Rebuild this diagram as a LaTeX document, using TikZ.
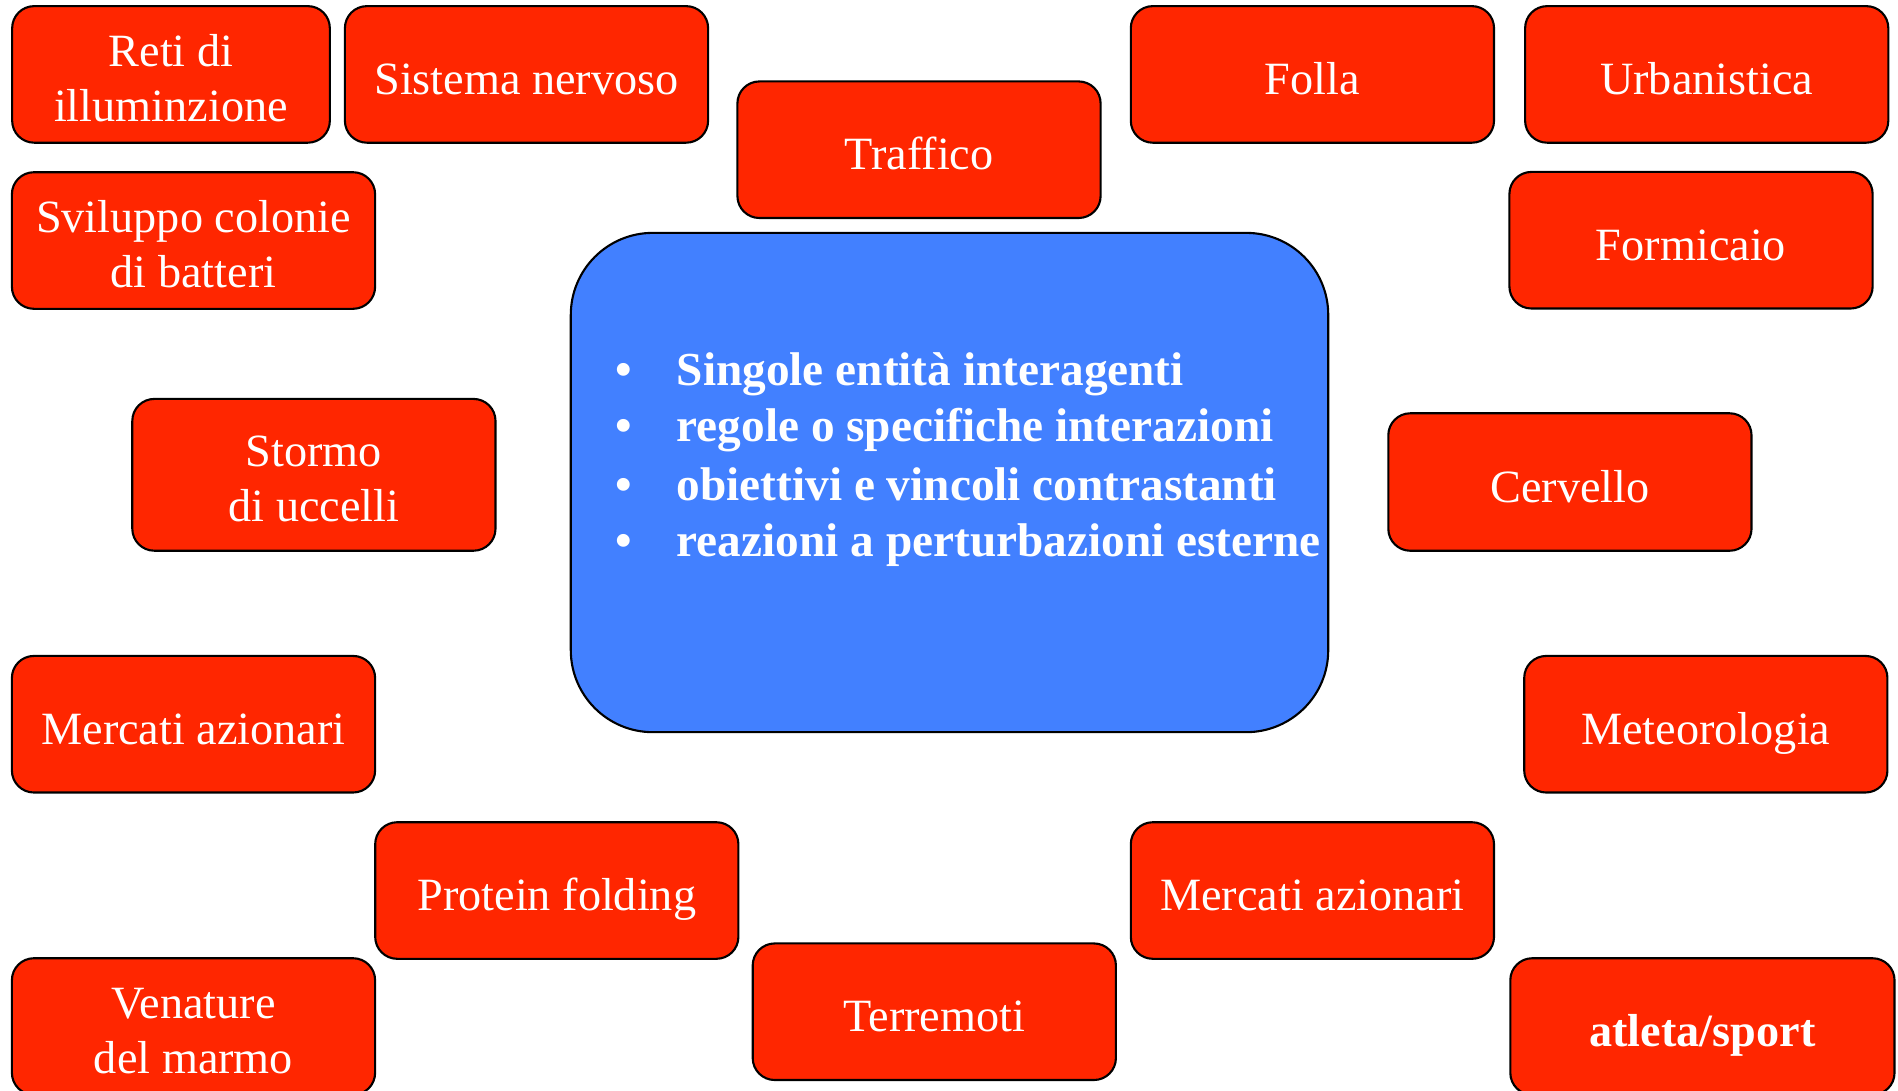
\documentclass[tikz,border=0pt]{standalone}
\usepackage{fontspec}
\setmainfont{Liberation Serif}
\definecolor{redfill}{RGB}{255,38,0}
\definecolor{bluefill}{RGB}{66,128,255}
\newcommand{\topfix}{\rule{0pt}{11.3pt}}
\tikzset{
  rbox/.style={draw=black, line width=0.6pt, fill=redfill, rounded corners=0.22cm,
    minimum width=3.63cm, minimum height=1.365cm, inner sep=0pt, text=white,
    align=center, font=\fontsize{13.15pt}{15.65pt}\selectfont},
  oneline/.style={text height=11.4pt, text depth=0pt},
  bbox/.style={draw=black, line width=0.6pt, fill=bluefill, rounded corners=0.82cm,
    minimum width=7.57cm, minimum height=4.99cm, inner sep=0pt},
  btext/.style={text=white, inner sep=0pt, anchor=base west,
    font=\fontsize{13.45pt}{16.2pt}\selectfont\bfseries},
  bdot/.style={text=white, inner sep=0pt, anchor=base,
    font=\fontsize{13.45pt}{16.2pt}\selectfont\bfseries}
}
\begin{document}
\begin{tikzpicture}[x=0.01cm, y=-0.01cm]
\useasboundingbox (0,0) rectangle (1898,1090);
% red boxes
\node[rbox, minimum width=3.175cm] (reti) at (171,74.4) {\topfix Reti di\\illuminzione};
\node[rbox, oneline] (sist) at (526.5,74.4) {Sistema nervoso};
\node[rbox, oneline] (traf) at (919,149.7) {Traffico};
\node[rbox, oneline] (folla) at (1312.4,74.4) {Folla};
\node[rbox, oneline] (urb) at (1706.7,74.4) {Urbanistica};
\node[rbox] (svil) at (193.5,240.5) {\topfix Sviluppo colonie\\di batteri};
\node[rbox, oneline] (form) at (1691,240.2) {Formicaio};
\node[rbox, minimum height=1.517cm] (stor) at (313.9,474.8) {\topfix Stormo\\di uccelli};
\node[rbox, oneline, minimum height=1.374cm] (cerv) at (1569.9,482) {Cervello};
\node[rbox, oneline] (merca) at (193.5,724.2) {Mercati azionari};
\node[rbox, oneline] (meteo) at (1705.8,724.2) {Meteorologia};
\node[rbox, oneline] (prot) at (556.8,890.5) {Protein folding};
\node[rbox, oneline] (mercb) at (1312.4,890.5) {Mercati azionari};
\node[rbox] (ven) at (193.5,1026.5) {\topfix Venature\\del marmo};
\node[rbox, oneline] (terr) at (934.3,1011.7) {Terremoti};
\node[rbox, oneline, minimum width=3.84cm, font=\fontsize{13.15pt}{15.65pt}\selectfont\bfseries] (atl) at (1702.4,1026.5) {atleta/sport};
% central blue box
\node[bbox] (center) at (949.5,482.5) {};
\node[bdot] (d1) at (624,385.7) {•};
\node[bdot] (d2) at (624,441.7) {•};
\node[bdot] (d3) at (624,500) {•};
\node[bdot] (d4) at (624,556.7) {•};
\node[btext] (t1) at (676,385.7) {Singole entità interagenti};
\node[btext] (t2) at (676,441.7) {regole o specifiche interazioni};
\node[btext] (t3) at (676,500) {obiettivi e vincoli contrastanti};
\node[btext] (t4) at (676,556.7) {reazioni a perturbazioni esterne};
\end{tikzpicture}
\end{document}
